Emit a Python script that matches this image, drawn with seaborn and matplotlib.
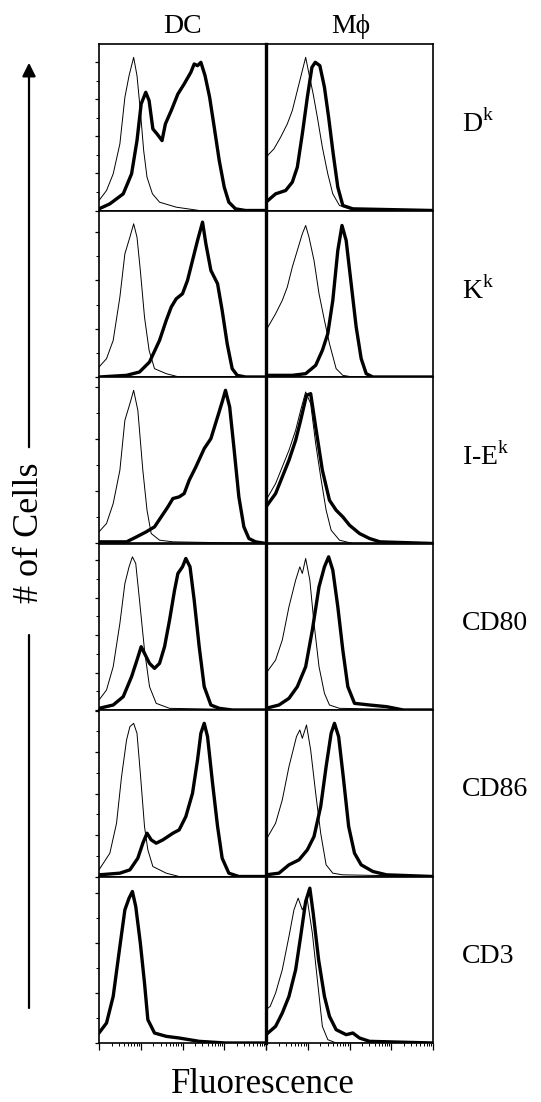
import numpy as np
import matplotlib
matplotlib.use("Agg")
import matplotlib.pyplot as plt
import seaborn as sns
from matplotlib.patches import FancyArrowPatch
from matplotlib.lines import Line2D
from matplotlib.ticker import MultipleLocator, NullLocator, LogLocator

# x values are log10 fluorescence (decades 0-4), y values are % of the panel scale
# isotype control = thin line, specific stain = thick line

# --- D^k ---
dk_dc_iso_x = [0, 0.18, 0.34, 0.50, 0.62, 0.72, 0.83, 0.91, 0.99, 1.07, 1.15, 1.28, 1.45, 1.85, 2.4, 4.0]
dk_dc_iso_y = [6, 12, 22, 40, 68, 81, 92, 81, 60, 36, 20, 10, 5, 2, 0, 0]
dk_dc_x = [0, 0.26, 0.58, 0.78, 0.91, 1.01, 1.12, 1.20, 1.29, 1.39, 1.51, 1.59, 1.73, 1.89, 2.04,
           2.20, 2.28, 2.36, 2.44, 2.54, 2.65, 2.76, 2.88, 3.00, 3.11, 3.27, 3.51, 4.0]
dk_dc_y = [1, 4, 10, 22, 42, 64, 71, 66, 49, 46, 42, 52, 60, 70, 76,
           83, 88, 87, 89, 81, 68, 50, 30, 14, 5, 1, 0, 0]
dk_mp_iso_x = [0, 0.19, 0.35, 0.51, 0.63, 0.73, 0.83, 0.95, 1.03, 1.13, 1.23, 1.35, 1.48, 1.60, 1.76, 2.0, 4.0]
dk_mp_iso_y = [32, 37, 44, 52, 60, 70, 80, 92, 82, 70, 56, 38, 22, 10, 3, 1, 0]
dk_mp_x = [0, 0.23, 0.47, 0.63, 0.75, 0.87, 0.99, 1.10, 1.18, 1.29, 1.40, 1.50, 1.61, 1.72, 1.84, 2.08, 4.0]
dk_mp_y = [5, 10, 12, 17, 26, 46, 68, 86, 89, 87, 74, 56, 34, 14, 3, 1, 0]

# --- K^k ---
kk_dc_iso_x = [0, 0.18, 0.34, 0.50, 0.62, 0.74, 0.83, 0.91, 0.99, 1.09, 1.20, 1.33, 1.61, 1.92, 4.0]
kk_dc_iso_y = [6, 11, 22, 48, 74, 84, 92, 84, 64, 36, 16, 5, 2, 0, 0]
kk_dc_x = [0, 0.66, 0.97, 1.21, 1.45, 1.61, 1.73, 1.85, 2.00, 2.12, 2.24, 2.36, 2.48, 2.56,
           2.68, 2.84, 2.95, 3.07, 3.19, 3.31, 3.51, 4.0]
kk_dc_y = [0, 1, 3, 9, 22, 34, 42, 47, 50, 58, 70, 82, 93, 80, 64, 56, 40, 20, 5, 1, 0, 0]
kk_mp_iso_x = [0, 0.23, 0.39, 0.51, 0.63, 0.75, 0.87, 0.95, 1.03, 1.15, 1.27, 1.40, 1.52, 1.68, 1.84, 2.08, 4.0]
kk_mp_iso_y = [28, 38, 46, 54, 66, 76, 86, 91, 84, 70, 50, 34, 20, 5, 1, 0, 0]
kk_mp_x = [0, 0.63, 0.95, 1.19, 1.35, 1.48, 1.60, 1.72, 1.82, 1.92, 2.04, 2.16, 2.28, 2.40, 2.56, 4.0]
kk_mp_y = [1, 1, 2, 7, 16, 26, 46, 76, 91, 82, 56, 30, 11, 2, 0, 0]

# --- I-E^k ---
iek_dc_iso_x = [0, 0.18, 0.34, 0.50, 0.62, 0.74, 0.83, 0.93, 1.05, 1.15, 1.25, 1.45, 1.77, 4.0]
iek_dc_iso_y = [7, 12, 24, 44, 74, 84, 92, 80, 44, 20, 6, 2, 1, 0]
iek_dc_x = [0, 0.66, 0.90, 1.13, 1.33, 1.49, 1.65, 1.77, 1.92, 2.04, 2.16, 2.32, 2.52, 2.68,
            2.84, 2.95, 3.03, 3.13, 3.23, 3.35, 3.47, 3.59, 3.75, 4.0]
iek_dc_y = [1, 1, 4, 7, 10, 16, 22, 27, 28, 30, 38, 46, 57, 63, 76, 85, 92, 82, 58, 28, 10, 3, 1, 0]
iek_mp_iso_x = [0, 0.23, 0.39, 0.55, 0.71, 0.83, 0.95, 1.07, 1.19, 1.31, 1.44, 1.56, 1.76, 2.08, 4.0]
iek_mp_iso_y = [26, 36, 46, 56, 68, 80, 91, 84, 60, 40, 20, 8, 2, 0, 0]
iek_mp_x = [0, 0.23, 0.39, 0.55, 0.71, 0.83, 0.97, 1.07, 1.19, 1.35, 1.52, 1.68, 1.84, 2.00, 2.24, 2.48, 2.73, 4.0]
iek_mp_y = [22, 30, 40, 50, 62, 74, 89, 90, 70, 44, 26, 20, 16, 11, 6, 3, 1, 0]

# --- CD80 ---
cd80_dc_iso_x = [0, 0.18, 0.34, 0.50, 0.62, 0.72, 0.80, 0.88, 0.97, 1.09, 1.21, 1.37, 1.69, 4.0]
cd80_dc_iso_y = [6, 12, 26, 52, 76, 86, 92, 88, 66, 36, 14, 4, 1, 0]
cd80_dc_x = [0, 0.34, 0.58, 0.78, 0.91, 1.01, 1.09, 1.21, 1.33, 1.45, 1.57, 1.69, 1.81, 1.89,
             2.00, 2.08, 2.18, 2.28, 2.40, 2.52, 2.68, 2.88, 3.19, 4.0]
cd80_dc_y = [1, 3, 8, 20, 30, 38, 34, 28, 25, 28, 38, 54, 72, 82, 86, 91, 86, 66, 38, 14, 3, 1, 0, 0]
cd80_mp_iso_x = [0, 0.23, 0.39, 0.55, 0.71, 0.81, 0.87, 0.95, 1.05, 1.15, 1.27, 1.40, 1.52, 1.76, 4.0]
cd80_mp_iso_y = [22, 30, 42, 62, 78, 86, 82, 91, 78, 52, 26, 10, 3, 1, 0]
cd80_mp_x = [0, 0.31, 0.55, 0.75, 0.95, 1.11, 1.27, 1.40, 1.50, 1.60, 1.72, 1.84, 1.96, 2.12, 2.48, 2.89, 3.29, 4.0]
cd80_mp_y = [1, 3, 7, 14, 26, 48, 74, 86, 92, 84, 62, 36, 14, 4, 3, 2, 0, 0]

# --- CD86 ---
cd86_dc_iso_x = [0, 0.26, 0.42, 0.54, 0.66, 0.74, 0.83, 0.91, 0.99, 1.09, 1.17, 1.29, 1.61, 1.92, 4.0]
cd86_dc_iso_y = [4, 14, 32, 60, 82, 90, 92, 86, 62, 30, 16, 6, 2, 0, 0]
cd86_dc_x = [0, 0.50, 0.74, 0.93, 1.05, 1.15, 1.25, 1.37, 1.53, 1.77, 1.92, 2.08, 2.24, 2.36,
             2.44, 2.52, 2.60, 2.72, 2.84, 2.95, 3.11, 3.35, 4.0]
cd86_dc_y = [1, 2, 4, 11, 20, 26, 22, 20, 22, 26, 28, 36, 50, 70, 86, 92, 84, 56, 30, 11, 2, 0, 0]
cd86_mp_iso_x = [0, 0.23, 0.39, 0.55, 0.73, 0.81, 0.87, 0.97, 1.07, 1.19, 1.31, 1.44, 1.60, 1.84, 4.0]
cd86_mp_iso_y = [22, 32, 46, 66, 84, 88, 83, 91, 76, 50, 26, 7, 2, 1, 0]
cd86_mp_x = [0, 0.31, 0.55, 0.79, 0.99, 1.15, 1.31, 1.44, 1.56, 1.64, 1.74, 1.85, 1.98, 2.12, 2.28, 2.56, 2.89, 4.0]
cd86_mp_y = [1, 2, 7, 10, 16, 24, 42, 66, 86, 92, 84, 60, 30, 14, 7, 3, 1, 0]

# --- CD3 (DC isotype lies under the stain) ---
cd3_dc_iso_x = [0, 0.18, 0.34, 0.50, 0.62, 0.72, 0.80, 0.88, 0.99, 1.09, 1.17, 1.33, 1.61, 1.92, 2.40, 3.03, 4.0]
cd3_dc_iso_y = [6, 12, 28, 58, 80, 87, 91, 82, 60, 36, 14, 6, 4, 3, 1, 0, 0]
cd3_dc_x = [0, 0.18, 0.34, 0.50, 0.62, 0.72, 0.80, 0.88, 0.99, 1.09, 1.17, 1.33, 1.61, 1.92, 2.40, 3.03, 4.0]
cd3_dc_y = [6, 12, 28, 58, 80, 87, 91, 82, 60, 36, 14, 6, 4, 3, 1, 0, 0]
cd3_mp_iso_x = [0, 0.10, 0.23, 0.39, 0.55, 0.67, 0.77, 0.87, 0.99, 1.11, 1.23, 1.35, 1.48, 1.68, 4.0]
cd3_mp_iso_y = [20, 22, 30, 44, 64, 80, 87, 80, 86, 66, 38, 10, 2, 0, 0]
cd3_mp_x = [0, 0.23, 0.39, 0.55, 0.71, 0.83, 0.95, 1.05, 1.13, 1.26, 1.40, 1.52, 1.68, 1.92, 2.08, 2.24, 2.48, 4.0]
cd3_mp_y = [5, 10, 18, 28, 44, 64, 85, 93, 78, 50, 28, 16, 8, 5, 6, 3, 1, 0]

columns = ["DC", "M\u03d5"]
markers = ["D$^{\\mathrm{k}}$", "K$^{\\mathrm{k}}$", "I-E$^{\\mathrm{k}}$", "CD80", "CD86", "CD3"]
ytick_step = [22.3, 29.0, 31.3, 22.5, 24.9, 30.0]

panels = [
    [(dk_dc_iso_x, dk_dc_iso_y, dk_dc_x, dk_dc_y), (dk_mp_iso_x, dk_mp_iso_y, dk_mp_x, dk_mp_y)],
    [(kk_dc_iso_x, kk_dc_iso_y, kk_dc_x, kk_dc_y), (kk_mp_iso_x, kk_mp_iso_y, kk_mp_x, kk_mp_y)],
    [(iek_dc_iso_x, iek_dc_iso_y, iek_dc_x, iek_dc_y), (iek_mp_iso_x, iek_mp_iso_y, iek_mp_x, iek_mp_y)],
    [(cd80_dc_iso_x, cd80_dc_iso_y, cd80_dc_x, cd80_dc_y), (cd80_mp_iso_x, cd80_mp_iso_y, cd80_mp_x, cd80_mp_y)],
    [(cd86_dc_iso_x, cd86_dc_iso_y, cd86_dc_x, cd86_dc_y), (cd86_mp_iso_x, cd86_mp_iso_y, cd86_mp_x, cd86_mp_y)],
    [(cd3_dc_iso_x, cd3_dc_iso_y, cd3_dc_x, cd3_dc_y), (cd3_mp_iso_x, cd3_mp_iso_y, cd3_mp_x, cd3_mp_y)],
]

sns.set_theme(style="white")
plt.rcParams['font.family'] = ['Liberation Serif', 'DejaVu Serif']
plt.rcParams['mathtext.fontset'] = 'custom'
plt.rcParams['mathtext.rm'] = 'Liberation Serif'
plt.rcParams['text.color'] = 'black'

W, H = 541, 1102
fig = plt.figure(figsize=(W / 100, H / 100), dpi=100)

# grid geometry in pixels
left_px, top_px, col_w, row_h = 99, 44, 167, 166.5

for r, row in enumerate(panels):
    for c, (ix, iy, sx, sy) in enumerate(row):
        x0 = left_px + c * col_w
        y_bot = top_px + (r + 1) * row_h
        ax = fig.add_axes([x0 / W, 1 - y_bot / H, col_w / W, row_h / H])
        sns.lineplot(x=10 ** np.array(ix), y=iy, ax=ax, color="black", linewidth=0.7,
                     estimator=None, sort=False)
        sns.lineplot(x=10 ** np.array(sx), y=sy, ax=ax, color="black", linewidth=2.4,
                     estimator=None, sort=False)
        ax.set_xscale("log")
        ax.set_xlim(1, 1e4)
        ax.set_ylim(0, 100)
        ax.set_xlabel("")
        ax.set_ylabel("")
        for sp in ax.spines.values():
            sp.set_color("black")
            sp.set_linewidth(1.2)
        if c == 1:
            ax.spines["left"].set_linewidth(2.4)
        if c == 0:
            ax.yaxis.set_major_locator(MultipleLocator(ytick_step[r]))
            ax.yaxis.set_minor_locator(MultipleLocator(ytick_step[r] / 2))
            ax.tick_params(axis="y", which="major", direction="out", length=3, width=0.9,
                           color="black", left=True)
            ax.tick_params(axis="y", which="minor", direction="out", length=2, width=0.7,
                           color="black", left=True)
        else:
            ax.yaxis.set_major_locator(NullLocator())
            ax.yaxis.set_minor_locator(NullLocator())
        if r == len(panels) - 1:
            ax.xaxis.set_major_locator(LogLocator(base=10, numticks=10))
            ax.xaxis.set_minor_locator(LogLocator(base=10, subs=np.arange(2, 10), numticks=10))
            ax.tick_params(axis="x", which="major", direction="out", length=5, width=0.9,
                           color="black", bottom=True)
            ax.tick_params(axis="x", which="minor", direction="out", length=2.5, width=0.7,
                           color="black", bottom=True)
        else:
            ax.tick_params(axis="x", which="both", bottom=False, length=0)
        ax.set_xticklabels([], minor=True)
        ax.set_xticklabels([])
        ax.set_yticklabels([])
        ax.grid(False)

    fig.text(462 / W, 1 - (top_px + (r + 0.48) * row_h) / H, markers[r],
             ha="left", va="center", fontsize=20)

# column headers
fig.text(183 / W, 1 - 33 / H, columns[0], ha="center", va="baseline", fontsize=20)
fig.text(351 / W, 1 - 33 / H, columns[1], ha="center", va="baseline", fontsize=20)

# axis titles
fig.text(263 / W, 1 - 1093 / H, "Fluorescence", ha="center", va="baseline", fontsize=25)
fig.text(29 / W, 1 - 533 / H, "# of Cells", rotation=90, ha="center", va="center", fontsize=26)

# arrow along the count axis, broken by the label
arrow = FancyArrowPatch((29 / W, 1 - 450 / H), (29 / W, 1 - 60 / H), transform=fig.transFigure,
                        arrowstyle="-|>", mutation_scale=20, linewidth=1.6, color="black")
fig.add_artist(arrow)
fig.add_artist(Line2D([29 / W, 29 / W], [1 - 635 / H, 1 - 1008 / H], transform=fig.transFigure,
                      color="black", linewidth=1.6))

fig.savefig("out.png", dpi=100)
